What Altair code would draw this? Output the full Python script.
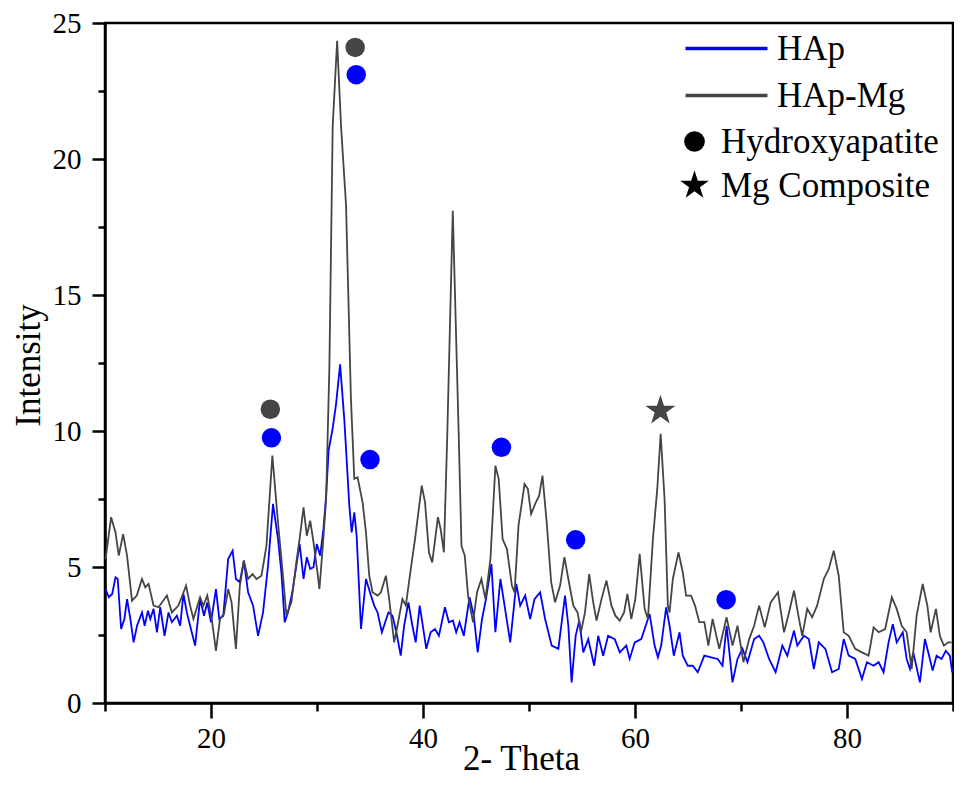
import altair as alt
import pandas as pd

series_names = ["HAp", "HAp-Mg"]
series_colors = ["#0000ff", "#454545"]

hap_theta = [10.05, 10.36, 10.68, 10.99, 11.2, 11.52, 11.83, 12.08, 12.39, 12.7, 13.02, 13.49,
             13.74, 14.05, 14.27, 14.58, 14.9, 15.21, 15.62, 15.99, 16.31, 16.78, 17.09, 17.4,
             17.72, 18.03, 18.5, 18.97, 19.34, 19.65, 20.0, 20.47, 20.78, 21.16, 21.62, 22.04,
             22.35, 22.72, 23.1, 23.5, 23.97, 24.44, 24.91, 25.38, 25.85, 26.32, 26.64, 26.95,
             27.26, 27.67, 28.05, 28.36, 28.73, 29.04, 29.36, 29.67, 29.98, 30.3, 30.61, 30.86,
             31.1, 31.48, 31.8, 32.18, 32.58, 33.05, 33.27, 33.52, 33.74, 34.15, 34.62, 35.09,
             35.4, 35.71, 36.12, 36.43, 36.74, 37.12, 37.49, 37.9, 38.22, 38.62, 39.0, 39.31,
             39.69, 39.93, 40.31, 40.72, 41.13, 41.5, 42.07, 42.44, 42.82, 43.13, 43.45, 43.85,
             44.39, 44.79, 45.16, 45.57, 45.94, 46.45, 46.83, 47.3, 47.6, 48.23, 48.8, 49.17,
             49.64, 50.11, 50.52, 51.05, 51.52, 52.14, 52.77, 53.4, 53.71, 54.02, 54.4, 54.74,
             55.12, 55.59, 56.15, 56.53, 57.0, 57.46, 58.09, 58.56, 59.18, 59.5, 59.97, 60.59,
             61.38, 61.85, 62.16, 62.47, 62.94, 63.26, 63.66, 64.2, 64.51, 64.98, 65.45, 65.92,
             66.54, 67.17, 67.8, 68.26, 68.64, 69.2, 69.67, 70.14, 70.61, 71.24, 71.71, 72.11,
             72.65, 73.27, 73.9, 74.37, 75.0, 75.31, 75.94, 76.4, 76.87, 77.34, 77.96, 78.59,
             79.22, 79.69, 80.16, 80.78, 81.41, 81.88, 82.51, 82.98, 83.45, 83.92, 84.32, 84.69,
             85.26, 85.63, 85.94, 86.25, 86.88, 87.35, 87.67, 88.08, 88.45, 88.92, 89.32, 89.7,
             89.93]
hap_int = [4.19, 3.89, 4.01, 4.62, 4.56, 2.72, 3.09, 3.82, 3.09, 2.23, 2.84, 3.33,
           2.84, 3.39, 3.09, 3.46, 2.6, 3.52, 2.47, 3.33, 2.97, 3.21, 2.84, 4.01,
           3.33, 2.84, 2.11, 3.82, 3.21, 3.70, 2.97, 4.19, 3.09, 3.21, 5.29, 5.6,
           4.56, 4.44, 5.23, 4.07, 3.58, 2.47, 3.33, 5.05, 7.32, 6.03, 4.80, 2.97,
           3.33, 4.07, 5.05, 5.85, 4.56, 5.36, 4.93, 4.99, 5.85, 5.42, 6.40, 7.62,
           9.3, 10.1, 11.0, 12.45, 10.4, 7.25, 6.27, 7.01, 6.15, 2.72, 4.56, 3.95,
           3.58, 3.33, 2.6, 2.97, 3.33, 3.21, 2.6, 1.74, 2.84, 3.70, 2.84, 2.23,
           3.58, 2.97, 1.99, 2.6, 2.72, 2.47, 3.52, 2.97, 3.03, 2.6, 2.97, 2.47,
           3.89, 3.21, 1.86, 3.09, 3.82, 5.11, 2.6, 4.56, 3.82, 2.23, 4.38, 3.58,
           3.95, 3.09, 3.82, 4.07, 3.09, 2.11, 1.99, 3.95, 2.84, 0.76, 2.47, 3.03,
           1.86, 2.35, 1.37, 2.47, 1.74, 2.47, 2.35, 1.86, 2.11, 1.62, 2.23, 2.35,
           3.27, 2.11, 1.68, 2.11, 3.52, 2.84, 1.74, 2.6, 1.74, 1.37, 1.37, 1.13,
           1.74, 1.68, 1.62, 1.37, 2.84, 0.76, 1.62, 1.99, 1.50, 2.35, 2.47, 2.23,
           1.62, 1.13, 2.11, 1.74, 2.66, 2.11, 2.47, 2.35, 1.25, 2.23, 1.99, 1.13,
           1.25, 2.35, 1.74, 1.62, 0.88, 1.50, 1.37, 1.50, 1.13, 2.23, 2.90, 2.23,
           2.60, 1.62, 1.25, 1.86, 0.76, 2.35, 1.86, 1.19, 1.74, 1.62, 1.92, 1.74,
           1.13]

mg_theta = [10.05, 10.58, 10.99, 11.3, 11.71, 12.08, 12.55, 13.0, 13.49, 13.8, 14.11, 14.58,
            15.05, 15.84, 16.31, 16.93, 17.65, 18.03, 18.34, 18.97, 19.28, 19.65, 20.07, 20.47,
            20.85, 21.22, 21.62, 21.94, 22.35, 22.72, 23.1, 23.5, 23.92, 24.29, 24.76, 25.23,
            25.79, 26.32, 26.79, 27.11, 27.58, 28.05, 28.36, 28.73, 29.04, 29.36, 29.67, 30.08,
            30.23, 30.55, 30.86, 31.17, 31.48, 31.9, 32.27, 32.74, 33.2, 33.52, 33.83, 34.3,
            34.62, 34.93, 35.24, 35.71, 36.03, 36.5, 36.81, 37.28, 37.59, 38.06, 38.38, 38.85,
            39.25, 39.88, 40.19, 40.56, 40.87, 41.41, 41.66, 41.97, 42.28, 42.81, 43.38, 43.63,
            43.94, 44.25, 44.72, 45.1, 45.51, 45.89, 46.36, 46.83, 47.14, 47.51, 47.92, 48.39,
            48.64, 49.01, 49.58, 49.89, 50.2, 50.58, 50.96, 51.27, 51.67, 52.09, 52.46, 52.93,
            53.34, 53.71, 54.18, 54.58, 54.9, 55.28, 55.68, 56.06, 56.37, 56.84, 57.31, 57.78,
            58.15, 58.56, 58.97, 59.28, 59.65, 60.03, 60.44, 60.91, 61.22, 61.69, 62.1, 62.42,
            62.79, 63.1, 63.26, 63.57, 64.1, 64.51, 64.82, 65.29, 65.66, 66.07, 66.54, 66.92,
            67.32, 67.95, 68.64, 69.2, 69.67, 70.23, 70.77, 71.24, 71.71, 72.24, 72.8, 73.49,
            74.06, 74.53, 75.0, 75.47, 75.78, 76.25, 76.71, 77.18, 77.81, 78.28, 78.75, 79.22,
            79.69, 80.16, 80.78, 81.41, 82.04, 82.51, 82.98, 83.6, 84.23, 84.69, 85.16, 85.63,
            86.1, 86.57, 87.14, 87.58, 87.89, 88.39, 88.76, 89.14, 89.55, 89.86]
mg_int = [5.29, 6.83, 6.27, 5.42, 6.21, 5.42, 3.76, 3.95, 4.56, 4.25, 4.38, 3.58,
          3.52, 3.95, 3.33, 3.58, 4.31, 3.58, 3.09, 3.89, 3.58, 3.95, 3.09, 1.92,
          3.09, 3.27, 4.19, 3.70, 1.99, 4.31, 5.23, 4.56, 4.74, 4.56, 4.68, 5.78,
          9.1, 6.64, 4.68, 3.21, 3.70, 5.17, 6.03, 7.19, 6.15, 6.70, 5.91, 4.68,
          4.19, 5.78, 7.5, 12.4, 21.2, 24.35, 21.2, 18.3, 11.2, 8.24, 8.3, 7.38,
          6.27, 4.68, 4.07, 3.95, 4.07, 4.68, 3.82, 2.23, 2.84, 3.82, 3.58, 4.93,
          6.03, 7.99, 7.38, 5.54, 5.17, 6.83, 6.40, 5.54, 9.7, 18.1, 9.7, 5.78,
          5.42, 3.95, 2.97, 4.07, 4.56, 3.82, 5.29, 8.72, 8.24, 6.03, 5.66, 4.31,
          4.07, 6.52, 8.05, 7.87, 6.95, 7.32, 7.62, 8.36, 6.64, 4.44, 3.70, 4.31,
          5.36, 4.56, 3.58, 3.33, 2.6, 3.33, 4.74, 3.70, 3.03, 3.82, 4.50, 3.58,
          3.21, 3.03, 3.33, 4.01, 3.09, 3.82, 5.48, 3.46, 3.09, 6.03, 7.87, 9.9,
          7.5, 3.58, 3.33, 4.56, 5.54, 4.80, 3.95, 3.95, 3.58, 2.97, 2.97, 2.11,
          3.09, 1.99, 3.15, 2.11, 2.84, 1.50, 2.35, 2.84, 3.58, 2.78, 3.70, 4.07,
          2.6, 3.33, 4.13, 3.09, 2.47, 3.46, 3.15, 3.58, 4.56, 4.93, 5.60, 4.68,
          2.6, 2.47, 1.99, 1.86, 1.74, 2.78, 2.6, 2.72, 3.89, 3.46, 2.84, 2.6,
          1.25, 3.21, 4.38, 3.58, 2.6, 3.46, 2.47, 2.11, 2.23, 2.23]

phase_names = ["Hydroxyapatite", "Mg Composite"]
marker_theta = [25.7, 33.7, 35.0, 47.4, 54.4, 68.6, 25.6, 33.6, 62.4]
marker_int = [9.75, 23.1, 8.95, 9.4, 6.0, 3.8, 10.8, 24.1, 10.75]
marker_series = ["HAp"] * 6 + ["HAp-Mg"] * 3
marker_phase = ["Hydroxyapatite"] * 8 + ["Mg Composite"]

x_major = [20, 40, 60, 80]
x_minor = [10, 30, 50, 70, 90]
y_major = [0, 5, 10, 15, 20, 25]
y_minor = [2.5, 7.5, 12.5, 17.5, 22.5]

STAR = ("M0,-1.45L0.326,-0.448L1.379,-0.448L0.527,0.171L0.852,1.173L0,0.554"
        "L-0.852,1.173L-0.527,0.171L-1.379,-0.448L-0.326,-0.448Z")
LINE_SYMBOL = "M-4,0L4,0"
FONT = "Liberation Serif"

lines_df = pd.concat([
    pd.DataFrame({"theta": hap_theta, "intensity": hap_int, "series": "HAp"}),
    pd.DataFrame({"theta": mg_theta, "intensity": mg_int, "series": "HAp-Mg"}),
], ignore_index=True)
markers_df = pd.DataFrame({"theta": marker_theta, "intensity": marker_int,
                           "series": marker_series, "phase": marker_phase})

x_scale = alt.Scale(domain=[10, 90], nice=False, zero=False)
y_scale = alt.Scale(domain=[0, 25], nice=False, zero=False)

x_axis = alt.Axis(
    orient="bottom", values=x_major, tickSize=15, format="d",
    tickWidth=2.5, tickColor="black", domainColor="black", domainWidth=2.5,
    labelFont=FONT, labelFontSize=29, labelColor="black", labelPadding=6,
    labelFlush=False, labelOverlap=False, grid=False,
    title="2- Theta", titleFont=FONT, titleFontSize=35, titleFontWeight="normal",
    titleColor="black", titleX=416, titleY=66, titleBaseline="alphabetic",
    titleAlign="center",
)
y_axis = alt.Axis(
    orient="left", values=y_major, tickSize=13, format="d",
    tickWidth=2.5, tickColor="black", domainColor="black", domainWidth=2.5,
    labelFont=FONT, labelFontSize=29, labelColor="black", labelPadding=11,
    labelFlush=False, labelOverlap=False, grid=False,
    title="Intensity", titleFont=FONT, titleFontSize=35, titleFontWeight="normal",
    titleColor="black", titleX=-59, titleY=342, titleAngle=270,
)
x_axis_minor = alt.Axis(
    orient="bottom", values=x_minor, tickSize=8, tickWidth=2.5, tickColor="black",
    labels=False, domain=False, grid=False, title=None,
)
y_axis_minor = alt.Axis(
    orient="left", values=y_minor, tickSize=7, tickWidth=2.5, tickColor="black",
    labels=False, domain=False, grid=False, title=None,
)

lines = alt.Chart(lines_df).mark_line().encode(
    x=alt.X("theta:Q", scale=x_scale, axis=x_axis),
    y=alt.Y("intensity:Q", scale=y_scale, axis=y_axis),
    color=alt.Color(
        "series:N",
        scale=alt.Scale(domain=series_names, range=series_colors),
        legend=alt.Legend(
            title=None, orient="none", legendX=604, legendY=8, padding=0,
            symbolType=LINE_SYMBOL, symbolSize=420, symbolStrokeWidth=3.5,
            labelFont=FONT, labelFontSize=35, labelColor="black",
            labelOffset=33, rowPadding=11, labelLimit=400,
        ),
    ),
    strokeWidth=alt.value(1.8),
)

points = alt.Chart(markers_df).mark_point(filled=True, opacity=1, strokeWidth=0).encode(
    x=alt.X("theta:Q", scale=x_scale, axis=x_axis_minor),
    y=alt.Y("intensity:Q", scale=y_scale, axis=y_axis_minor),
    color=alt.Color("series:N", scale=alt.Scale(domain=series_names, range=series_colors),
                    legend=None),
    shape=alt.Shape(
        "phase:N",
        scale=alt.Scale(domain=phase_names, range=["circle", STAR]),
        legend=alt.Legend(
            title=None, orient="none", legendX=572, legendY=101, padding=0,
            symbolSize=430, symbolFillColor="black", symbolStrokeColor="black",
            symbolStrokeWidth=0, symbolOpacity=1,
            labelFont=FONT, labelFontSize=35, labelColor="black",
            labelOffset=9, rowPadding=8, labelLimit=400,
        ),
    ),
    size=alt.condition("datum.phase == 'Mg Composite'", alt.value(480), alt.value(380)),
)

chart = alt.layer(lines, points).resolve_scale(color="independent").resolve_axis(
    x="independent", y="independent"
).properties(
    width=848, height=680,
    autosize=alt.AutoSizeParams(type="none"),
    padding={"left": 97, "top": 15, "right": 1, "bottom": 74},
    background="white",
).configure(
    font=FONT,
    style={"guide-label": {"font": FONT}, "guide-title": {"font": FONT}},
).configure_axis(labelFont=FONT, titleFont=FONT).configure_legend(
    labelFont=FONT
).configure_view(stroke="black", strokeWidth=2.5)

chart.save("out.html", embed_options={"renderer": "svg", "actions": False})
